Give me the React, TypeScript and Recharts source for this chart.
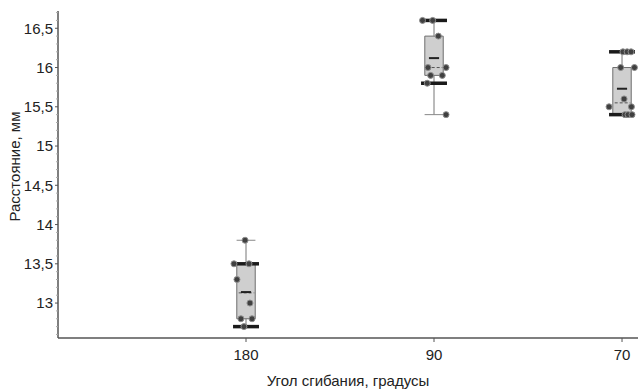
import React from 'react';
import {
  ComposedChart,
  Scatter,
  XAxis,
  YAxis,
  ReferenceArea,
  ReferenceLine,
} from 'recharts';

// Categories (bending angle, degrees)
const categories = ['180', '90', '70'];
const positions = [1, 2, 3];

// Box-plot statistics, mm
const minValues = [12.7, 15.4, 15.4];
const p10Values = [12.7, 15.8, 15.4];
const q1Values = [12.8, 15.9, 15.4];
const medianValues = [13.13, 16.0, 15.55];
const meanValues = [13.14, 16.12, 15.73];
const q3Values = [13.5, 16.4, 16.0];
const p90Values = [13.5, 16.6, 16.2];
const maxValues = [13.8, 16.6, 16.2];

// Individual measurements (jitter offset in category units, value in mm)
const points180 = [
  { dx: -0.005, y: 13.8 },
  { dx: -0.064, y: 13.5 },
  { dx: 0.016, y: 13.5 },
  { dx: -0.048, y: 13.3 },
  { dx: 0.021, y: 13.0 },
  { dx: -0.027, y: 12.8 },
  { dx: 0.032, y: 12.8 },
  { dx: -0.011, y: 12.7 },
];
const points90 = [
  { dx: -0.061, y: 16.6 },
  { dx: -0.007, y: 16.6 },
  { dx: 0.023, y: 16.4 },
  { dx: -0.032, y: 16.0 },
  { dx: 0.064, y: 16.0 },
  { dx: -0.018, y: 15.9 },
  { dx: 0.044, y: 15.9 },
  { dx: -0.036, y: 15.8 },
  { dx: 0.064, y: 15.4 },
];
const points70 = [
  { dx: 0.005, y: 16.2 },
  { dx: 0.027, y: 16.2 },
  { dx: 0.048, y: 16.2 },
  { dx: -0.007, y: 16.0 },
  { dx: 0.066, y: 16.0 },
  { dx: 0.011, y: 15.6 },
  { dx: -0.069, y: 15.5 },
  { dx: 0.05, y: 15.5 },
  { dx: 0.016, y: 15.4 },
  { dx: 0.032, y: 15.4 },
  { dx: 0.053, y: 15.4 },
];
const pointGroups = [points180, points90, points70];

const yTicks: number[] = [];
for (let i = 126; i <= 167; i++) yTicks.push(i / 10);

const FONT = 'Liberation Sans, Arial, sans-serif';
const AXIS = '#555555';

const BOX_HALF = 0.049;
const BAR_HALF = 0.069;
const CAP_HALF = 0.05;
const MEAN_HALF = 0.027;

function YTick(props: any) {
  const { x, y, payload } = props;
  const v = payload.value;
  const major = Math.abs(v * 2 - Math.round(v * 2)) < 1e-6;
  const ax = x + 5;
  return (
    <g>
      <line x1={ax - (major ? 3 : 2)} x2={ax} y1={y} y2={y} stroke={major ? AXIS : '#aaa'} strokeWidth={1} />
      {major && (
        <text x={x} y={y} dy="0.36em" textAnchor="end" fontFamily={FONT} fontSize={15} fill="#222">
          {String(Math.round(v * 10) / 10).replace('.', ',')}
        </text>
      )}
    </g>
  );
}

function DotShape(props: any) {
  const { cx, cy } = props;
  return <circle cx={cx} cy={cy} r={3} fill="#404040" stroke="#8e8e8e" strokeWidth={1} />;
}

export default function App() {
  return (
    <div style={{ position: 'absolute', left: 0, top: 0, width: 638, height: 392, background: '#fff' }}>
      <ComposedChart width={638} height={392} margin={{ top: 11, right: 0, bottom: 0, left: 0 }}>
        <XAxis
          type="number"
          dataKey="x"
          domain={[0, 3.085]}
          allowDataOverflow
          ticks={positions}
          tickFormatter={(v: number) => categories[positions.indexOf(v)] ?? ''}
          height={54}
          axisLine={{ stroke: AXIS, strokeWidth: 1.5 }}
          tickLine={{ stroke: AXIS }}
          tickSize={4}
          tickMargin={7}
          tick={{ fontFamily: FONT, fontSize: 15, fill: '#222' }}
          label={{
            value: 'Угол сгибания, градусы',
            position: 'insideBottom',
            offset: 6,
            style: { fontFamily: FONT, fontSize: 15, fill: '#222' },
          }}
        />
        <YAxis
          type="number"
          dataKey="y"
          domain={[12.555, 16.72]}
          allowDataOverflow
          ticks={yTicks}
          interval={0}
          width={58}
          axisLine={{ stroke: AXIS, strokeWidth: 1.5 }}
          tickLine={false}
          tickSize={3}
          tickMargin={2}
          tick={<YTick />}
          label={{
            value: 'Расстояние, мм',
            angle: -90,
            position: 'insideLeft',
            offset: 15,
            dy: -8,
            style: { fontFamily: FONT, fontSize: 15, fill: '#222', textAnchor: 'middle' },
          }}
        />

        {positions.map((p, i) => (
          <ReferenceArea
            key={'box' + i}
            x1={p - BOX_HALF}
            x2={p + BOX_HALF}
            y1={q1Values[i]}
            y2={q3Values[i]}
            fill="#cfcfcf"
            fillOpacity={1}
            stroke="#6e6e6e"
            strokeWidth={1}
            ifOverflow="extendDomain"
          />
        ))}
        {positions.map((p, i) => (
          <ReferenceLine
            key={'wu' + i}
            segment={[{ x: p, y: q3Values[i] }, { x: p, y: maxValues[i] }]}
            stroke="#777"
            strokeWidth={1}
          />
        ))}
        {positions.map((p, i) => (
          <ReferenceLine
            key={'wl' + i}
            segment={[{ x: p, y: q1Values[i] }, { x: p, y: minValues[i] }]}
            stroke="#777"
            strokeWidth={1}
          />
        ))}
        {positions.map((p, i) => (
          <ReferenceLine
            key={'cu' + i}
            segment={[{ x: p - CAP_HALF, y: maxValues[i] }, { x: p + CAP_HALF, y: maxValues[i] }]}
            stroke="#888"
            strokeWidth={1}
          />
        ))}
        {positions.map((p, i) => (
          <ReferenceLine
            key={'cl' + i}
            segment={[{ x: p - CAP_HALF, y: minValues[i] }, { x: p + CAP_HALF, y: minValues[i] }]}
            stroke="#888"
            strokeWidth={1}
          />
        ))}
        {positions.map((p, i) => (
          <ReferenceLine
            key={'med' + i}
            segment={[{ x: p - BOX_HALF + 0.01, y: medianValues[i] }, { x: p + BOX_HALF - 0.005, y: medianValues[i] }]}
            stroke="#555"
            strokeWidth={1}
            strokeDasharray="3 2"
          />
        ))}
        {positions.map((p, i) => (
          <ReferenceLine
            key={'mean' + i}
            segment={[{ x: p - MEAN_HALF, y: meanValues[i] }, { x: p + MEAN_HALF, y: meanValues[i] }]}
            stroke="#222"
            strokeWidth={2}
          />
        ))}
        {positions.map((p, i) => (
          <ReferenceLine
            key={'p90' + i}
            segment={[{ x: p - BAR_HALF, y: p90Values[i] }, { x: p + BAR_HALF, y: p90Values[i] }]}
            stroke="#1a1a1a"
            strokeWidth={3.5}
          />
        ))}
        {positions.map((p, i) => (
          <ReferenceLine
            key={'p10' + i}
            segment={[{ x: p - BAR_HALF, y: p10Values[i] }, { x: p + BAR_HALF, y: p10Values[i] }]}
            stroke="#1a1a1a"
            strokeWidth={3.5}
          />
        ))}

        {pointGroups.map((g, i) => (
          <Scatter
            key={'pts' + i}
            name={categories[i]}
            data={g.map((d) => ({ x: positions[i] + d.dx, y: d.y }))}
            shape={<DotShape />}
            isAnimationActive={false}
          />
        ))}
      </ComposedChart>
    </div>
  );
}
